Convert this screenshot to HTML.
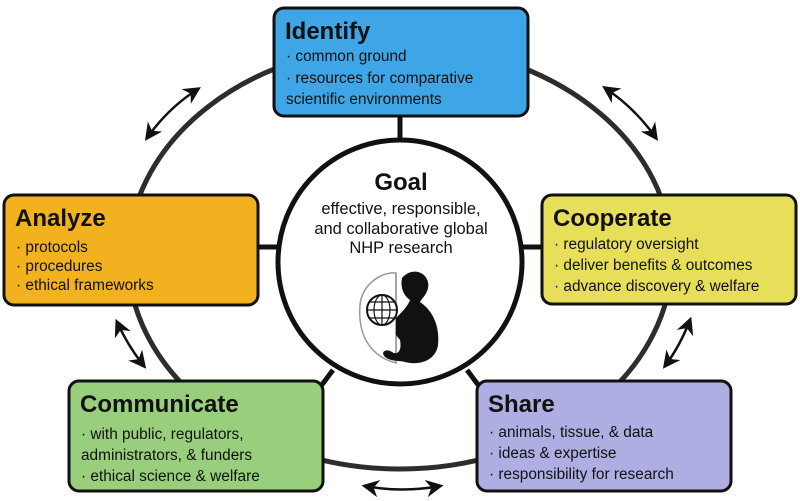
<!DOCTYPE html>
<html><head><meta charset="utf-8"><style>
html,body{margin:0;padding:0;background:#fff}
svg{display:block}
text{font-family:"Liberation Sans",Arial,sans-serif;fill:#111}
.t{font-weight:bold;font-size:24px}
.b{font-size:15.4px}
.g{font-size:16.5px}
</style></head><body>
<svg width="800" height="501" viewBox="0 0 800 501" xmlns="http://www.w3.org/2000/svg">
<defs>
<marker id="ah" viewBox="0 0 10 10" refX="8" refY="5" markerWidth="7" markerHeight="7" orient="auto-start-reverse">
<path d="M0,0 L10,5 L0,10 L3,5 z" fill="#111"/></marker>
</defs>
<ellipse cx="400" cy="257" rx="272" ry="212" fill="none" stroke="#2d2d2d" stroke-width="5"/>
<g stroke="#111" stroke-width="5">
<line x1="400" y1="110" x2="400" y2="140"/>
<line x1="255" y1="247" x2="280" y2="247"/>
<line x1="520" y1="247" x2="545" y2="247"/>
<line x1="333" y1="370" x2="318" y2="390"/>
<line x1="467" y1="370" x2="482" y2="390"/>
</g>
<circle cx="400" cy="262" r="122" fill="#fff" stroke="#111" stroke-width="5"/>
<g fill="none" stroke="#111" stroke-width="2.5" marker-start="url(#ah)" marker-end="url(#ah)">
<path d="M198,89 Q168,108 147,138"/>
<path d="M605,88 Q635,108 656,138"/>
<path d="M117,322 Q128,346 144,366"/>
<path d="M690,320 Q680,346 665,366"/>
<path d="M365,486 Q402,493 440,486"/>
</g>
<g stroke="#111" stroke-width="3">
<rect x="274" y="8" width="254" height="108" rx="10" fill="#3ea6e6"/>
<rect x="4" y="195" width="254" height="110" rx="10" fill="#f2b11f"/>
<rect x="542" y="195" width="254" height="109" rx="10" fill="#e7de5a"/>
<rect x="69" y="381" width="254" height="110" rx="10" fill="#98ce7c"/>
<rect x="477" y="381" width="254" height="110" rx="10" fill="#aeaee3"/>
</g>
<text class="t" x="285" y="39">Identify</text>
<text class="b" x="286" y="61">· common ground</text>
<text class="b" x="286" y="83">· resources for comparative</text>
<text class="b" x="286" y="104">scientific environments</text>

<text class="t" x="15" y="226">Analyze</text>
<text class="b" x="16" y="252">· protocols</text>
<text class="b" x="16" y="271">· procedures</text>
<text class="b" x="16" y="290">· ethical frameworks</text>

<text class="t" x="553" y="226">Cooperate</text>
<text class="b" x="554" y="249">· regulatory oversight</text>
<text class="b" x="554" y="270">· deliver benefits &amp; outcomes</text>
<text class="b" x="554" y="291">· advance discovery &amp; welfare</text>

<text class="t" x="80" y="412">Communicate</text>
<text class="b" x="81" y="439">· with public, regulators,</text>
<text class="b" x="81" y="460">administrators, &amp; funders</text>
<text class="b" x="81" y="481">· ethical science &amp; welfare</text>

<text class="t" x="488" y="412">Share</text>
<text class="b" x="489" y="437">· animals, tissue, &amp; data</text>
<text class="b" x="489" y="458">· ideas &amp; expertise</text>
<text class="b" x="489" y="479">· responsibility for research</text>

<text class="t" x="401" y="190" text-anchor="middle">Goal</text>
<text class="g" x="401" y="214" text-anchor="middle">effective, responsible,</text>
<text class="g" x="401" y="234" text-anchor="middle">and collaborative global</text>
<text class="g" x="401" y="253" text-anchor="middle">NHP research</text>
<g>
<path d="M396,273 C380,272 362,285 360,305 C358,330 366,355 396,363 Z" fill="none" stroke="#999" stroke-width="1.5"/>
<path d="M396,273 L396,363" stroke="#999" stroke-width="1.5"/>
<path d="M402,278 C410,268 425,270 428,282 C430,292 422,298 420,302 C432,310 440,325 438,345 C436,360 420,366 405,362 C398,360 392,362 385,357 C380,352 386,348 392,352 C398,356 402,350 400,340 L396,335 L396,318 C402,312 408,306 410,300 C404,296 400,288 402,278 Z" fill="#111"/>
<circle cx="382" cy="310" r="15" fill="#fff" stroke="#111" stroke-width="2"/>
<g stroke="#111" stroke-width="1.2" fill="none">
<line x1="367" y1="310" x2="397" y2="310"/><line x1="369" y1="302" x2="395" y2="302"/><line x1="369" y1="318" x2="395" y2="318"/>
<line x1="382" y1="295" x2="382" y2="325"/><ellipse cx="382" cy="310" rx="8" ry="15"/>
</g>
</g>
</svg>
</body></html>
